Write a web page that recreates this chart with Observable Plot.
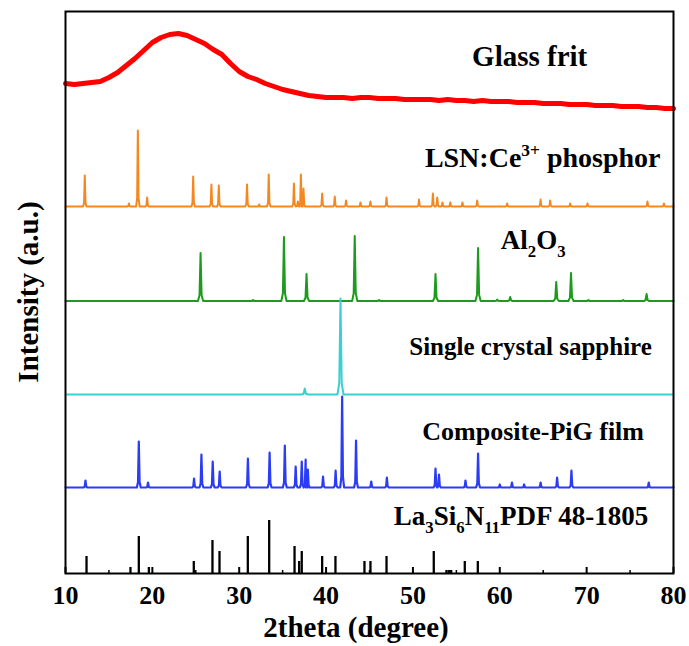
<!DOCTYPE html>
<html><head><meta charset="utf-8">
<script src="https://cdn.jsdelivr.net/npm/d3@7"></script>
<script src="https://cdn.jsdelivr.net/npm/@observablehq/plot@0.6"></script>
<style>
body{margin:0;background:#fff;}
#chart{position:absolute;left:0;top:0;}
</style>
</head><body><div id="chart"></div>
<script>
// ---------- data ----------
const xTicks = [10, 20, 30, 40, 50, 60, 70, 80];
const xMinorTicks = [15, 25, 35, 45, 55, 65, 75];

// Glass frit (amorphous hump), 2theta 10..80 step 1
const glassX = [10,11,12,13,14,15,16,17,18,19,20,21,22,23,24,25,26,27,28,29,30,31,32,33,34,35,36,37,38,39,40,41,42,43,44,45,46,47,48,49,50,51,52,53,54,55,56,57,58,59,60,61,62,63,64,65,66,67,68,69,70,71,72,73,74,75,76,77,78,79,80];
const glassI = [490,489,490,491,492,496,501,508,515,523,531,536,539,540,538,534,530,524,519,510,502,497,494,490,487,484,482,480,478,477,476,476,476,475,476,476,475,475,475,474,474,474,474,473,474,473,473,472,473,472,472,472,471,471,471,470,470,470,469,469,469,468,468,468,467,467,467,466,466,465,465];

// LSN:Ce3+ phosphor
const lsnBase = 367;
const lsnPos = [12.22,17.3,18.33,19.4,24.7,26.8,27.65,30.9,32.3,33.4,36.3,36.75,37.1,37.4,39.55,41.0,42.3,43.96,45.1,46.96,50.7,52.3,52.8,53.4,54.3,55.7,57.4,60.85,64.7,65.8,68.1,70.1,77.0,78.9];
const lsnH   = [31,3,76,9,30,22,21,22,2,32,23,5,32,18,13,10,6,4,5,9,7,13,9,4,4,4,6,3,7,6,3,3,5,3];

// Al2O3
const aloBase = 272.5;
const aloPos = [25.55,31.6,35.15,37.75,43.3,46.1,52.6,57.5,59.7,61.2,66.5,68.2,70.2,74.2,76.9];
const aloH   = [48,1,64,27,65,1,27,53,1.5,4,19,28,1,1,7];

// Single crystal sapphire
const sapBase = 179;
const sapPos = [37.55,41.66];
const sapH   = [6,96];

// Composite-PiG film
const pigBase = 86;
const pigPos = [12.3,18.44,19.5,24.8,25.65,26.95,27.75,31.0,33.5,35.25,36.5,37.2,37.65,37.9,39.65,41.1,41.85,43.45,45.2,47.0,52.6,53.0,56.05,57.5,60.0,61.4,62.8,64.7,66.6,68.25,77.15];
const pigH   = [7,46,5,9,33,26,16,29,35,42,21,26,28,18,11,17,91,47,6,10,19,13,7,34,3,5,3,5,10,17,5];

// La3Si6N11 PDF 48-1805 reference sticks
const pdfPos = [12.42,17.48,18.44,19.6,24.77,26.92,27.73,30.99,33.45,36.37,36.9,37.2,39.55,41.08,44.42,45.11,46.96,52.4,53.86,54.13,54.4,55.97,57.47];
const pdfH   = [17,6,37,6,12,33,22,37,53,27,12,22,17,17,12,12,17,22,3,3,3,12,12];

// ---------- build tables ----------
function peakLine(base, pos, hts, w) {
  const pts = [{x: 10, y: base}];
  pos.forEach((p, i) => {
    const h = hts[i];
    pts.push({x: p - 2.5*w, y: base}, {x: p - w, y: base + 0.12*h}, {x: p, y: base + h},
             {x: p + w, y: base + 0.12*h}, {x: p + 2.5*w, y: base});
  });
  pts.push({x: 80, y: base});
  return pts.sort((a, b) => a.x - b.x);
}
const glass = glassX.map((x, i) => ({x, y: glassI[i]}));
const lsn = peakLine(lsnBase, lsnPos, lsnH, 0.08);
const alo = peakLine(aloBase, aloPos, aloH, 0.12);
const sap = peakLine(sapBase, sapPos, sapH, 0.14);
const pig = peakLine(pigBase, pigPos, pigH, 0.09);
const pdf = pdfPos.map((x, i) => ({x, h: pdfH[i]}));

const FONT = "'Liberation Serif','Times New Roman',serif";

const plot = Plot.plot({
  width: 689, height: 646,
  marginLeft: 65, marginRight: 16, marginTop: 11, marginBottom: 73,
  x: {domain: [10, 80], axis: null},
  y: {domain: [0, 562], axis: null},
  style: {fontFamily: FONT, fontSize: "26px", fontWeight: "bold", color: "black", background: "white"},
  marks: [
    Plot.line(glass, {x: "x", y: "y", stroke: "#ff0000", strokeWidth: 5, curve: "linear"}),
    Plot.line(lsn, {x: "x", y: "y", stroke: "#f5871f", strokeWidth: 2}),
    Plot.line(alo, {x: "x", y: "y", stroke: "#1e9a1e", strokeWidth: 2}),
    Plot.line(sap, {x: "x", y: "y", stroke: "#3ccfd2", strokeWidth: 2}),
    Plot.line(pig, {x: "x", y: "y", stroke: "#2b3cf5", strokeWidth: 2.2}),
    Plot.ruleX(pdf, {x: "x", y1: 0, y2: "h", stroke: "black", strokeWidth: 2.3}),
    Plot.ruleX(xTicks, {x: d => d, y1: 0, y2: 6, stroke: "black", strokeWidth: 2}),
    Plot.ruleX(xMinorTicks, {x: d => d, y1: 0, y2: 3, stroke: "black", strokeWidth: 1.5}),
    Plot.text(xTicks, {x: d => d, y: 0, text: d => String(d), lineAnchor: "bottom", dy: 30,
                       fontSize: 26, fontWeight: "bold", fontFamily: FONT, fill: "black"}),
    Plot.frame({stroke: "black", strokeWidth: 2})
  ]
});
document.getElementById("chart").appendChild(plot);

// ---------- annotations ----------
const sx = plot.scale("x"), sy = plot.scale("y");
const svg = d3.select(plot);
const labels = [
  {x: 63.5, y: 507, size: 29, parts: [["Glass frit"]]},
  {x: 65.0, y: 406, size: 28, parts: [["LSN:Ce"], ["3+", "sup"], [" phosphor"]]},
  {x: 63.9, y: 324, size: 27, parts: [["Al"], ["2", "sub"], ["O"], ["3", "sub"]]},
  {x: 63.6, y: 218, size: 25, parts: [["Single crystal sapphire"]]},
  {x: 63.9, y: 133, size: 26, parts: [["Composite-PiG film"]]},
  {x: 62.5, y: 48,  size: 27, parts: [["La"], ["3", "sub"], ["Si"], ["6", "sub"], ["N"], ["11", "sub"], ["PDF 48-1805"]]}
];
labels.forEach(l => {
  const t = svg.append("text")
    .attr("x", sx.apply(l.x)).attr("y", sy.apply(l.y))
    .attr("text-anchor", "middle")
    .style("font-family", FONT).style("font-weight", "bold").style("font-size", l.size + "px")
    .attr("fill", "black");
  let shift = 0;
  l.parts.forEach(([s, kind]) => {
    const ts = t.append("tspan").text(s);
    let target = 0;
    if (kind === "sub") { ts.style("font-size", (l.size*0.62) + "px"); target = 0.28*l.size; }
    else if (kind === "sup") { ts.style("font-size", (l.size*0.62) + "px"); target = -0.4*l.size; }
    ts.attr("dy", target - shift);
    shift = target;
  });
});
// axis titles
svg.append("text").attr("x", 356).attr("y", 637).attr("text-anchor", "middle")
  .style("font-family", FONT).style("font-weight", "bold").style("font-size", "29px")
  .text("2theta (degree)");
svg.append("text").attr("transform", "translate(38,292) rotate(-90)").attr("text-anchor", "middle")
  .style("font-family", FONT).style("font-weight", "bold").style("font-size", "29px")
  .text("Intensity (a.u.)");
</script>
</body></html>
